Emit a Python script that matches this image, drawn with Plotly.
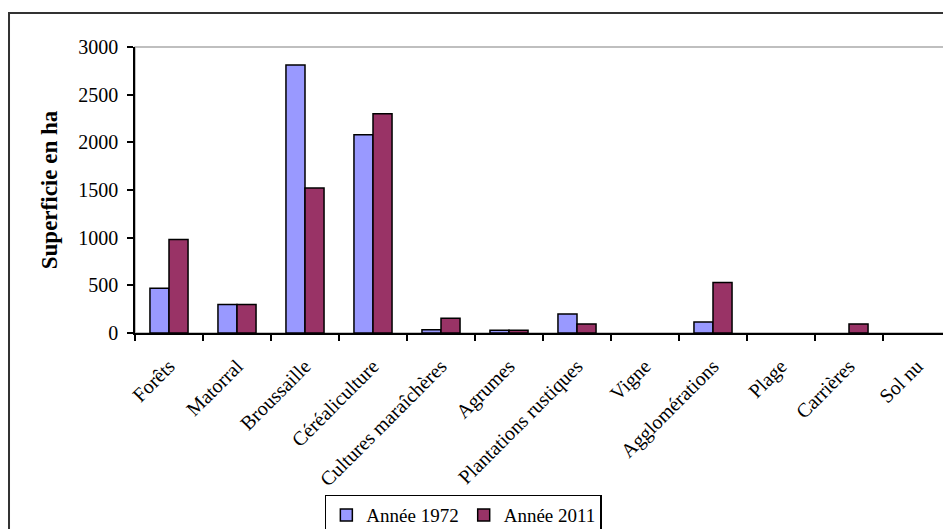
import plotly.graph_objects as go

# land use categories (x axis)
categories = [
    "Forêts", "Matorral", "Broussaille", "Céréaliculture",
    "Cultures maraîchères", "Agrumes", "Plantations rustiques", "Vigne",
    "Agglomérations", "Plage", "Carrières", "Sol nu",
]

# surface in ha (None = no bar drawn)
annee_1972 = [470, 300, 2810, 2080, 35, 30, 200, None, 115, None, None, None]
annee_2011 = [980, 300, 1520, 2300, 155, 30, 95, None, 530, None, 95, None]

y_ticks = [0, 500, 1000, 1500, 2000, 2500, 3000]

SERIF = "Liberation Serif, Times New Roman, serif"

fig = go.Figure()
fig.add_trace(go.Bar(
    x=categories, y=annee_1972, name="Année 1972",
    marker=dict(color="#9999FF", line=dict(color="#000000", width=1.5)),
))
fig.add_trace(go.Bar(
    x=categories, y=annee_2011, name="Année 2011",
    marker=dict(color="#993366", line=dict(color="#000000", width=1.5)),
))

# the page body adds an 8px margin, so the figure is sized to fit what is left
fig.update_layout(
    width=943,
    height=521,
    margin=dict(l=127, r=0, t=39, b=196, autoexpand=False),
    paper_bgcolor="#FFFFFF",
    plot_bgcolor="#FFFFFF",
    barmode="group",
    bargap=0.44,
    bargroupgap=0,
    font=dict(family=SERIF, color="#000000"),
    showlegend=True,
    legend=dict(
        orientation="h",
        xref="container", yref="container",
        x=0.336, xanchor="left",
        y=0.066, yanchor="top",
        bordercolor="#000000", borderwidth=1.5,
        font=dict(family=SERIF, size=19),
        itemwidth=30,
        bgcolor="#FFFFFF",
    ),
    shapes=[
        # outer chart frame
        dict(type="rect", xref="paper", yref="paper",
             x0=-0.1544, x1=1.2, y0=-1.0, y1=1.119,
             line=dict(color="#333333", width=2), layer="below"),
        # plot area frame
        dict(type="rect", xref="paper", yref="paper",
             x0=0, x1=0.998, y0=0, y1=1,
             line=dict(color="#AAAAAA", width=1.5), layer="below"),
    ],
)

fig.update_xaxes(
    type="category",
    automargin=False,
    tickangle=-45,
    tickson="boundaries",
    ticks="outside",
    ticklen=6,
    tickwidth=1.5,
    tickcolor="#000000",
    showline=True,
    linecolor="#000000",
    linewidth=1.5,
    showgrid=False,
    tickfont=dict(family=SERIF, size=20),
    ticklabelstandoff=12,
)

fig.update_yaxes(
    range=[0, 3000],
    automargin=False,
    tickvals=y_ticks,
    ticks="outside",
    ticklen=6,
    tickwidth=1.5,
    tickcolor="#000000",
    showline=True,
    linecolor="#000000",
    linewidth=1.5,
    showgrid=False,
    zeroline=False,
    tickfont=dict(family=SERIF, size=20),
    ticklabelstandoff=5,
    title=dict(text="<b>Superficie en ha</b>",
               font=dict(family=SERIF, size=23), standoff=14),
)

fig.write_html("out.html")
